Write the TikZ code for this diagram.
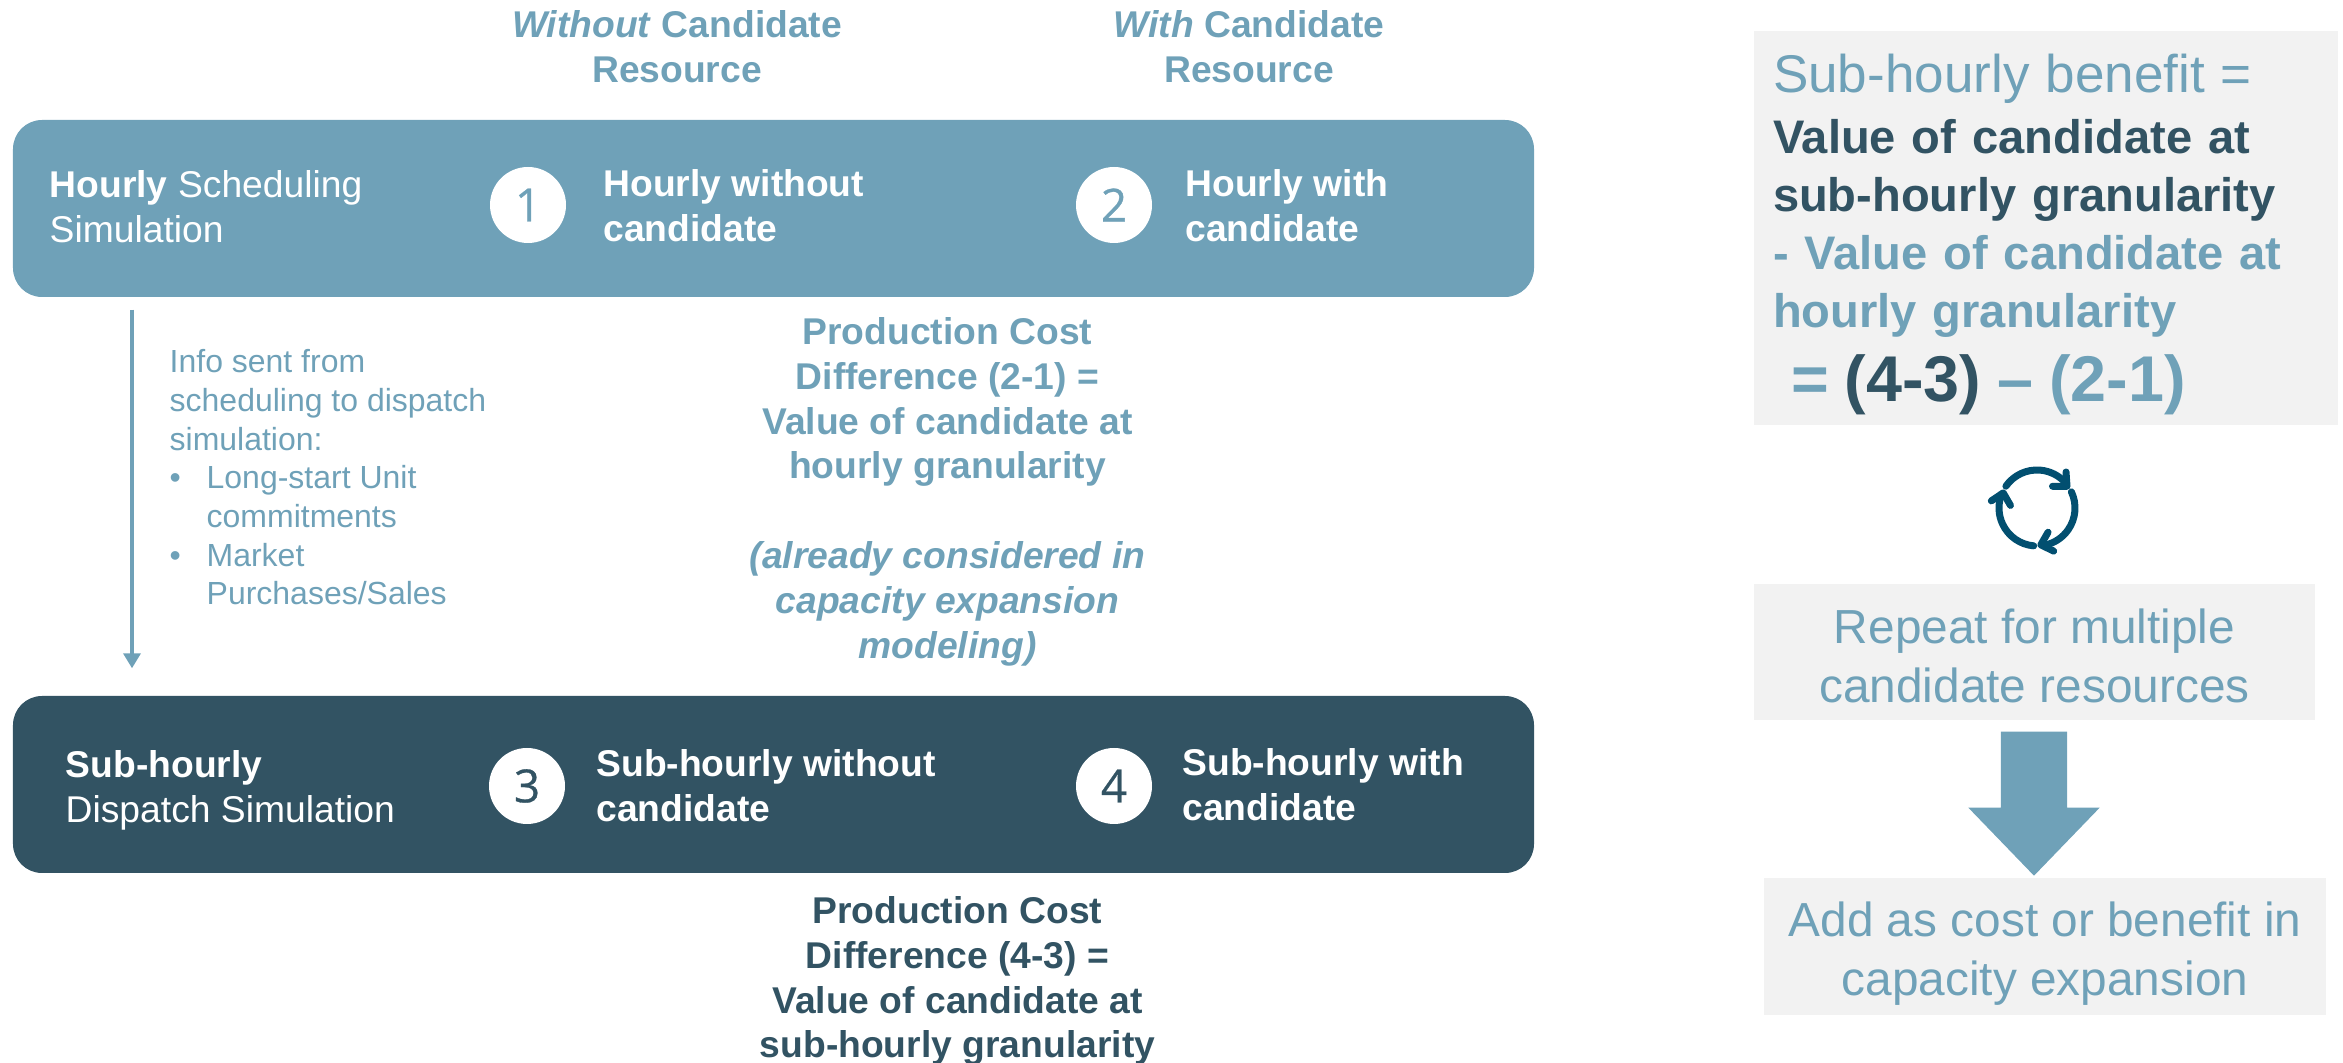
\documentclass[tikz,border=0pt]{standalone}
\usepackage{fontspec}
\setmainfont{Liberation Sans}
\newfontfamily\numfont[FakeBold=.6]{Open Sans}
\usepackage{xcolor}
\usetikzlibrary{positioning, shapes.arrows, arrows.meta}
\definecolor{hourlyblue}{HTML}{6FA1B8}
\definecolor{subhourlyblue}{HTML}{325363}
\definecolor{panelgray}{HTML}{F2F2F2}
\definecolor{cycleblue}{HTML}{024F70}
\newcommand{\bodyfont}{\fontsize{10.6}{12.75}\selectfont}
\newcommand{\infofont}{\fontsize{9.1}{11}\selectfont}
\newcommand{\panelfont}{\fontsize{13.6}{16.7}\selectfont}
\tikzset{
    band/.style={minimum width=15.21cm, minimum height=1.77cm, rounded corners=.29cm},
    tag/.style={circle, fill=white, minimum size=.76cm, inner sep=0pt, font=\numfont\fontsize{13}{13}\selectfont},
    rowtext/.style={align=left, inner sep=0pt, text=white, font=\bodyfont},
    note/.style={align=center, inner sep=0pt, font=\bfseries\bodyfont},
    panel/.style={fill=panelgray, inner sep=0pt, align=center, text=hourlyblue, font=\panelfont},
}

\begin{document}
\begin{tikzpicture}[x=1cm, y=-1cm]
    \useasboundingbox (0,0) rectangle (23.43,10.63);

    % column headings
    \node [note, text=hourlyblue] (without) at (6.77,.47) {\textit{Without} Candidate\\Resource};
    \node [note, text=hourlyblue] (with) at (12.49,.47) {\textit{With} Candidate\\Resource};

    % the two simulation bands
    \node [band, fill=hourlyblue] (hourly) at (7.735,2.085) {};
    \node [band, fill=subhourlyblue] (subhourly) at (7.735,7.845) {};

    % numbered tags in the bands
    \node [tag, text=hourlyblue] (one) at (5.28,2.05) {1};
    \node [tag, text=hourlyblue] (two) at (11.14,2.05) {2};
    \node [tag, text=subhourlyblue] (three) at (5.27,7.86) {3};
    \node [tag, text=subhourlyblue] (four) at (11.14,7.86) {4};

    \node [rowtext, anchor=west] (hourlylabel) at (.49,2.07) {\textbf{Hourly} Scheduling\\Simulation};
    \node [rowtext, font=\bfseries\bodyfont, right=.36cm of one, yshift=-.01cm] (onelabel) {Hourly without\\candidate};
    \node [rowtext, font=\bfseries\bodyfont, right=.32cm of two, yshift=-.01cm] (twolabel) {Hourly with\\candidate};
    \node [rowtext, anchor=west] (subhourlylabel) at (.65,7.905) {\textbf{Sub-hourly}\\Dispatch Simulation};
    \node [rowtext, font=\bfseries\bodyfont, right=.30cm of three] (threelabel) {Sub-hourly without\\candidate};
    \node [rowtext, font=\bfseries\bodyfont, right=.29cm of four, yshift=.015cm] (fourlabel) {Sub-hourly with\\candidate};

    % differences under each band
    \node [note, text=hourlyblue, below=.19cm of hourly.south, xshift=1.74cm] (hourlycost) {Production Cost\\Difference (2-1) =\\Value of candidate at\\hourly granularity\\[12.75pt]\textit{(already considered in}\\\textit{capacity expansion}\\\textit{modeling)}};
    \node [note, text=subhourlyblue, below=.22cm of subhourly.south, xshift=1.84cm] (subhourlycost) {Production Cost\\Difference (4-3) =\\Value of candidate at\\sub-hourly granularity};

    % information passed between the simulations
    \coordinate (sendline) at (1.32,4);
    \draw [hourlyblue, line width=1pt, -{Triangle[length=.15cm, width=.17cm]}, shorten <=.12cm, shorten >=.27cm] (hourly.south -| sendline) -- (subhourly.north -| sendline);
    \node [anchor=north west, align=left, inner sep=0pt, text=hourlyblue, font=\infofont] (sentinfo) at (1.69,3.49) {Info sent from\\scheduling to dispatch\\simulation:\\\makebox[.37cm][l]{\textbullet}Long-start Unit\\\hspace*{.37cm}commitments\\\makebox[.37cm][l]{\textbullet}Market\\\hspace*{.37cm}Purchases/Sales};

    % right hand side
    \node [panel, minimum width=5.84cm, minimum height=3.94cm, text width=5.46cm, align=left] (benefit) at (20.46,2.28) {{\fontsize{15.1}{16.3}\selectfont\rule{0pt}{14.5pt}Sub-hourly benefit =}\\[1pt]{\color{subhourlyblue}\bfseries\fontsize{13.4}{16.3}\selectfont Value of candidate at\\sub-hourly granularity}\\{\bfseries\fontsize{13.4}{16.3}\selectfont - Value of candidate at\\hourly granularity}\\[4.2pt]{\bfseries\fontsize{18.4}{20}\selectfont\hspace*{.18cm}= {\color{subhourlyblue}(4-3)} -- (2-1)}};

    % cycle symbol
    \foreach \turn in {0,-120,-240} {
        \begin{scope}[shift={(20.37,5.08)}, rotate=\turn, y=1cm, cycleblue, line width=.07cm, line cap=round, line join=round]
            \draw (145:.38) arc (145:42:.38);
            \draw (.29,.36) -- (.30,.217) -- (.155,.217);
        \end{scope}
    }

    \node [panel, minimum width=5.61cm, minimum height=1.36cm] (repeatbox) at (20.345,6.52) {\rule{0pt}{12pt}Repeat for multiple\\candidate resources};
    \node [single arrow, fill=hourlyblue, shape border rotate=270, inner sep=.325cm, minimum height=1.44cm, minimum width=1.30cm, single arrow head extend=.325cm, single arrow tip angle=88] (downarrow) at (20.34,7.865) {};
    \node [panel, minimum width=5.62cm, minimum height=1.37cm] (addbox) at (20.45,9.465) {\rule{0pt}{14pt}Add as cost or benefit in\\capacity expansion};
\end{tikzpicture}
\end{document}
